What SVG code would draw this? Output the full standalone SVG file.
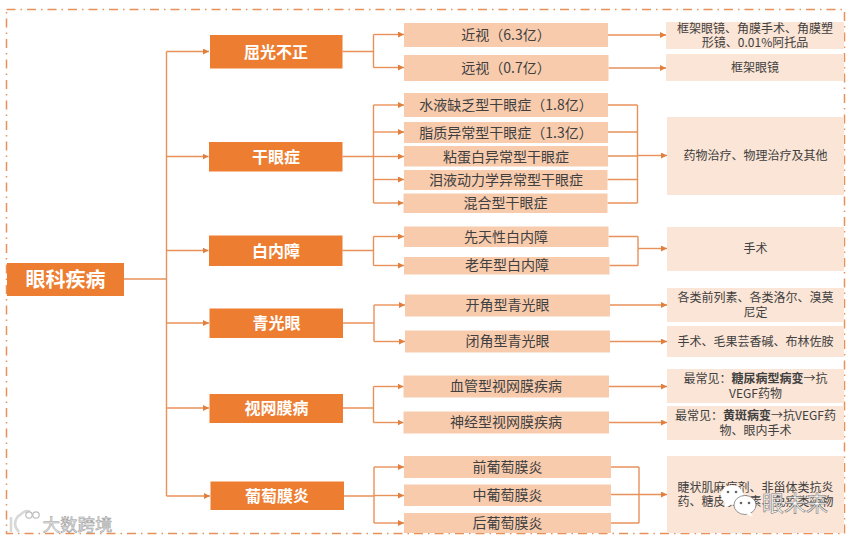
<svg xmlns="http://www.w3.org/2000/svg" width="853" height="540" viewBox="0 0 853 540">
<style>
text{font-family:"Noto Sans CJK SC","Liberation Sans",sans-serif;text-anchor:middle}
.l0 rect,.l1 rect{fill:#ED7D31}
.l0 text{font-size:20px;font-weight:700;fill:#fff}
.l1 text{font-size:16px;font-weight:700;fill:#fff}
.l2 rect{fill:#F8CBAD}
.l2 text{font-size:14px;fill:#404040}
.l3 rect{fill:#FBE5D6}
.l3 text{font-size:12px;fill:#404040}
.c{fill:none;stroke:#E8915A;stroke-width:1.4}
.a{marker-end:url(#arr)}
#frame{fill:none;stroke:#E8915A;stroke-width:1.5;stroke-dasharray:9 5 1.5 5}
</style>
<defs>
<marker id="arr" markerUnits="userSpaceOnUse" markerWidth="6" markerHeight="6" refX="6" refY="3" orient="auto"><path d="M0 0L6 3L0 6Z" fill="#E07F3E"/></marker>
</defs>
<rect width="853" height="540" fill="#fff"/>
<path id="frame" d="M6.500 9.500H844.500V533.500H6.500Z"/>
<g id="connectors">
<path class="c" d="M124 279H166.500M166.500 51.500V496"/>
<path class="c a" d="M166.500 51.500H209"/>
<path class="c a" d="M166.500 156.500H208.500"/>
<path class="c a" d="M166.500 250.500H208.500"/>
<path class="c a" d="M166.500 323H209"/>
<path class="c a" d="M166.500 408H209"/>
<path class="c a" d="M166.500 496H210"/>
<path class="c" d="M342.500 51.500H373.500M373.500 34.500V67.500"/>
<path class="c a" d="M373.500 34.500H404"/><path class="c a" d="M373.500 67.500H404"/>
<path class="c" d="M342.500 156.500H373.500M373.500 105V203"/>
<path class="c a" d="M373.500 105H404"/><path class="c a" d="M373.500 132H404"/><path class="c a" d="M373.500 156.500H404"/><path class="c a" d="M373.500 179.500H404"/><path class="c a" d="M373.500 203H403.500"/>
<path class="c" d="M342.500 250.500H373.500M373.500 236.500V265.500"/>
<path class="c a" d="M373.500 236.500H404"/><path class="c a" d="M373.500 265.500H404"/>
<path class="c" d="M343 323H374M374 305V341.500"/>
<path class="c a" d="M374 305H405"/><path class="c a" d="M374 341.500H405"/>
<path class="c" d="M343 408H373.500M373.500 386.500V422.500"/>
<path class="c a" d="M373.500 386.500H403.500"/><path class="c a" d="M373.500 422.500H403.500"/>
<path class="c" d="M344 496H374M374 467V523"/>
<path class="c a" d="M374 467H404"/><path class="c a" d="M374 495.500H404"/><path class="c a" d="M374 523H404"/>
<path class="c a" d="M608 35H666"/><path class="c a" d="M608.500 68H666"/>
<path class="c" d="M608 105H637.500M608 132H637.500M608 156H637.500M607.500 179.500H637.500M607.500 203H637.500M637.500 105V203"/>
<path class="c a" d="M637.500 155.500H667"/>
<path class="c" d="M608.500 236.500H638M609.500 265.500H638M638 236.500V265.500"/>
<path class="c a" d="M638 248.500H667"/>
<path class="c a" d="M610 305H667"/><path class="c a" d="M610 341.500H667"/>
<path class="c a" d="M609 386.500H667"/><path class="c a" d="M609 422.500H667"/>
<path class="c" d="M611 467H639M611 523H639M639 467V523"/>
<path class="c a" d="M611 494.500H667"/>
</g>
<g id="n-root" class="l0"><rect x="7" y="263" width="117" height="33"/><text x="65.500" y="286.500">眼科疾病</text></g>
<g id="n-qg" class="l1"><rect x="210" y="35" width="132.500" height="33.500"/><text x="276" y="57.500">屈光不正</text></g>
<g id="n-gy" class="l1"><rect x="209" y="142" width="133.500" height="29.500"/><text x="276" y="162.500">干眼症</text></g>
<g id="n-bn" class="l1"><rect x="209" y="235.500" width="133.500" height="30.500"/><text x="276" y="256.500">白内障</text></g>
<g id="n-qgy" class="l1"><rect x="209.500" y="308.500" width="133.500" height="29.500"/><text x="276.500" y="329">青光眼</text></g>
<g id="n-sw" class="l1"><rect x="209.500" y="394" width="133.500" height="29"/><text x="276.500" y="414">视网膜病</text></g>
<g id="n-pt" class="l1"><rect x="210.500" y="481.500" width="133.500" height="28.500"/><text x="277" y="501.500">葡萄膜炎</text></g>
<g id="n-jinshi" class="l2"><rect x="404" y="23" width="204" height="24"/><text x="506" y="40">近视（6.3亿）</text></g>
<g id="n-yuanshi" class="l2"><rect x="404" y="55" width="204.500" height="26"/><text x="506" y="73">远视（0.7亿）</text></g>
<g id="n-sy" class="l2"><rect x="404" y="93" width="204" height="24"/><text x="506" y="110">水液缺乏型干眼症（1.8亿）</text></g>
<g id="n-zz" class="l2"><rect x="404" y="122" width="204" height="21"/><text x="506" y="138">脂质异常型干眼症（1.3亿）</text></g>
<g id="n-ndb" class="l2"><rect x="404" y="146" width="204" height="20.500"/><text x="506" y="161.500">粘蛋白异常型干眼症</text></g>
<g id="n-ly" class="l2"><rect x="404" y="170" width="203.500" height="20"/><text x="506" y="185">泪液动力学异常型干眼症</text></g>
<g id="n-hh" class="l2"><rect x="403.500" y="193.500" width="204" height="19.500"/><text x="505.500" y="208">混合型干眼症</text></g>
<g id="n-xt" class="l2"><rect x="404" y="226.500" width="204.500" height="20.500"/><text x="506" y="241.500">先天性白内障</text></g>
<g id="n-ln" class="l2"><rect x="404" y="257" width="205.500" height="17.500"/><text x="507" y="270">老年型白内障</text></g>
<g id="n-kj" class="l2"><rect x="405" y="294.500" width="205" height="22"/><text x="507.500" y="310">开角型青光眼</text></g>
<g id="n-bj" class="l2"><rect x="405" y="330.500" width="205" height="22"/><text x="507.500" y="346">闭角型青光眼</text></g>
<g id="n-xg" class="l2"><rect x="403.500" y="375.500" width="205.500" height="22"/><text x="506" y="391">血管型视网膜疾病</text></g>
<g id="n-sj" class="l2"><rect x="403.500" y="411.500" width="205.500" height="22"/><text x="506" y="427">神经型视网膜疾病</text></g>
<g id="n-q" class="l2"><rect x="404" y="456" width="207" height="22"/><text x="507.500" y="472">前葡萄膜炎</text></g>
<g id="n-z" class="l2"><rect x="404" y="484.500" width="207" height="21.500"/><text x="507.500" y="500">中葡萄膜炎</text></g>
<g id="n-h" class="l2"><rect x="404" y="513" width="207" height="20"/><text x="507.500" y="528">后葡萄膜炎</text></g>
<g id="t-1" class="l3"><rect x="666" y="22" width="178" height="27"/><text x="755" y="32.500">框架眼镜、角膜手术、角膜塑</text><text x="755" y="46.500">形镜、0.01%阿托品</text></g>
<g id="t-2" class="l3"><rect x="666" y="54" width="178" height="27"/><text x="755" y="72">框架眼镜</text></g>
<g id="t-3" class="l3"><rect x="667" y="117" width="177" height="78"/><text x="755.500" y="160">药物治疗、物理治疗及其他</text></g>
<g id="t-4" class="l3"><rect x="667" y="227" width="177" height="44"/><text x="755.500" y="252.500">手术</text></g>
<g id="t-5" class="l3"><rect x="667" y="288" width="177" height="34"/><text x="755.500" y="302">各类前列素、各类洛尔、溴莫</text><text x="755.500" y="316.500">尼定</text></g>
<g id="t-6" class="l3"><rect x="667" y="326" width="177" height="31"/><text x="755.500" y="346">手术、毛果芸香碱、布林佐胺</text></g>
<g id="t-7" class="l3"><rect x="667" y="369" width="177" height="34"/><text x="755.500" y="383">最常见：<tspan font-weight="700">糖尿病型病变</tspan>→抗</text><text x="755.500" y="397.500">VEGF药物</text></g>
<g id="t-8" class="l3"><rect x="667" y="406" width="177" height="34"/><text x="755.500" y="420">最常见：<tspan font-weight="700">黄斑病变</tspan>→抗VEGF药</text><text x="755.500" y="434.500">物、眼内手术</text></g>
<g id="t-9" class="l3"><rect x="667" y="456" width="177" height="77"/><text x="755.500" y="492">睫状肌麻痹剂、非甾体类抗炎</text><text x="755.500" y="506">药、糖皮质激素、免疫类药物</text></g>
<g id="wm-left">
<path d="M11 532V517M19 515Q11 524 19 532M19 516Q26 509 30 512" fill="none" stroke="#d8d8d8" stroke-width="2.500"/>
<circle cx="29" cy="515" r="3.200" fill="#fff" stroke="#bbb" stroke-width="1.200"/><circle cx="36" cy="515" r="3.200" fill="#fff" stroke="#bbb" stroke-width="1.200"/>
<text x="77.500" y="531" style="font-size:17.500px;fill:#e6e6e6;stroke:#999;stroke-width:.5">大数跨境</text>
</g>
<g id="wm-right">
<ellipse cx="732" cy="495" rx="11" ry="10" fill="#fff"/><path d="M726 502l-2 6 7-3z" fill="#fff"/>
<ellipse cx="745" cy="505" rx="11" ry="9.500" fill="#fff" stroke="#555" stroke-width=".6"/><path d="M750 512l3 5-7-3z" fill="#fff"/>
<circle cx="728" cy="492" r="1.300" fill="#666"/><circle cx="736" cy="492" r="1.300" fill="#666"/>
<circle cx="741" cy="503" r="1.300" fill="#666"/><circle cx="749" cy="503" r="1.300" fill="#666"/>
<text x="795" y="511" style="font-size:22px;fill:#fff;stroke:#777;stroke-width:.6">眼未来</text>
</g>
</svg>
